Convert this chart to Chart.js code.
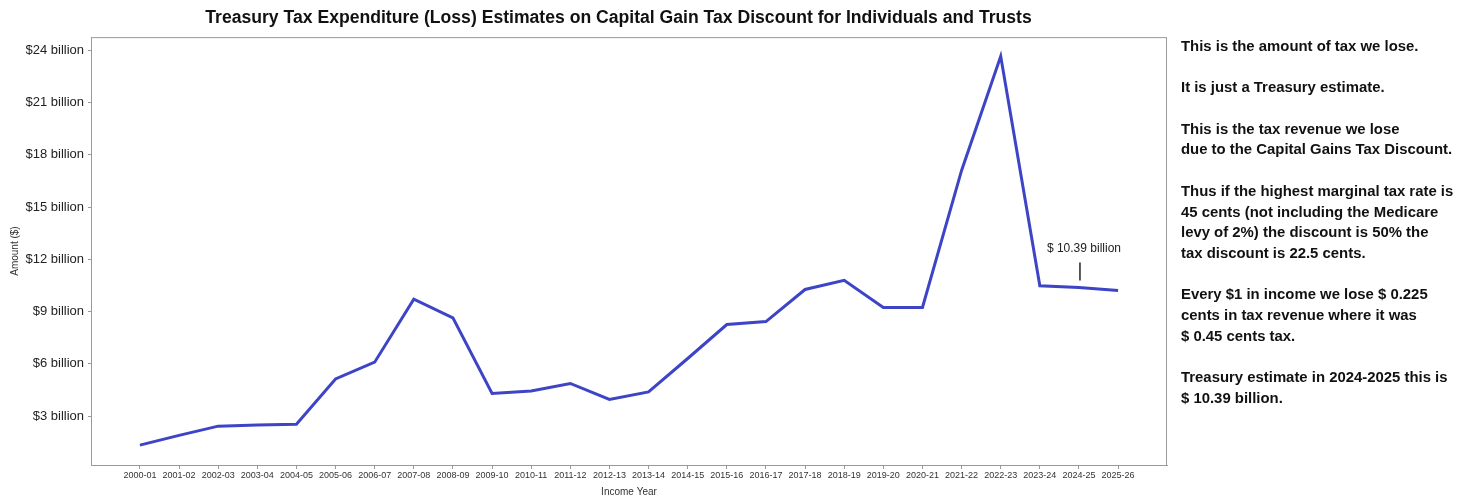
<!DOCTYPE html>
<html>
<head>
<meta charset="utf-8">
<script src="https://cdn.jsdelivr.net/npm/chart.js@4.4.0/dist/chart.umd.min.js"></script>
<style>
    body { margin: 0; background: #fff; width: 1469px; height: 498px; overflow: hidden; position: relative; }
    #chart-box { position: absolute; left: 0; top: 0; width: 1237px; height: 498px; }
    #notes {
        position: absolute; left: 1181px; top: 36px; width: 288px;
        font-family: 'Liberation Sans', Arial, sans-serif; font-weight: bold;
        font-size: 14.9px; line-height: 20.7px; color: #111;
    }
    #notes p { margin: 0 0 20.7px 0; }
</style>
</head>
<body>
<div id="chart-box"><canvas id="tax-chart"></canvas></div>
<div id="notes">
    <p>This is the amount of tax we lose.</p>
    <p>It is just a Treasury estimate.</p>
    <p>This is the tax revenue we lose<br>due to the Capital Gains Tax Discount.</p>
    <p>Thus if the highest marginal tax rate is<br>45 cents (not including the Medicare<br>levy of 2%) the discount is 50% the<br>tax discount is 22.5 cents.</p>
    <p>Every $1 in income we lose $ 0.225<br>cents in tax revenue where it was<br>$ 0.45 cents tax.</p>
    <p>Treasury estimate in 2024-2025 this is<br>$ 10.39 billion.</p>
</div>
<script>
// income years
const incomeYears = ['2000-01', '2001-02', '2002-03', '2003-04', '2004-05', '2005-06', '2006-07',
    '2007-08', '2008-09', '2009-10', '2010-11', '2011-12', '2012-13', '2013-14', '2014-15',
    '2015-16', '2016-17', '2017-18', '2018-19', '2019-20', '2020-21', '2021-22', '2022-23',
    '2023-24', '2024-25', '2025-26'];

// estimated loss, $ billion
const taxLoss = [1.34, 1.9, 2.43, 2.5, 2.54, 5.14, 6.1, 9.71, 8.64, 4.3, 4.45, 4.88, 3.96, 4.39,
    6.31, 8.26, 8.43, 10.27, 10.8, 9.24, 9.24, 17.1, 23.65, 10.48, 10.39, 10.21];

// y tick values, $ billion
const yTicks = [3, 6, 9, 12, 15, 18, 21, 24];

// the single callout
const calloutYear = '2024-25';
const calloutText = '$ 10.39 billion';

// draws the gray box round the plot and the callout over 2024-25
const extrasPlugin = {
    id: 'extras',
    afterDatasetsDraw(chart) {
        const ctx = chart.ctx;
        const area = chart.chartArea;
        ctx.save();
        ctx.strokeStyle = '#9a9a9a';
        ctx.lineWidth = 1;
        ctx.strokeRect(area.left + 0.5, area.top + 0.5, area.right - area.left - 1, area.bottom - area.top);

        const idx = incomeYears.indexOf(calloutYear);
        const px = chart.scales.x.getPixelForValue(idx);
        const py = chart.scales.y.getPixelForValue(taxLoss[idx]);
        ctx.strokeStyle = '#222';
        ctx.lineWidth = 1.5;
        ctx.beginPath();
        ctx.moveTo(px + 1, py - 25);
        ctx.lineTo(px + 1, py - 7);
        ctx.stroke();
        ctx.fillStyle = '#222';
        ctx.font = '12px "Liberation Sans", Arial, sans-serif';
        ctx.textAlign = 'center';
        ctx.textBaseline = 'middle';
        ctx.fillText(calloutText, px + 5, py - 39);
        ctx.restore();
    }
};

const chartEl = document.getElementById('tax-chart').getContext('2d');
const taxChart = new Chart(chartEl, {
    type: 'line',
    data: {
        datasets: [{
            label: 'Tax expenditure',
            data: taxLoss.map((v, i) => ({ x: i, y: v })),
            borderColor: '#3d44c6',
            borderWidth: 3,
            pointRadius: 0,
            tension: 0,
            fill: false
        }]
    },
    options: {
        responsive: true,
        maintainAspectRatio: false,
        animation: false,
        layout: { padding: 0 },
        plugins: {
            legend: { display: false },
            tooltip: { enabled: false },
            title: {
                display: true,
                text: 'Treasury Tax Expenditure (Loss) Estimates on Capital Gain Tax Discount for Individuals and Trusts',
                color: '#111',
                font: { family: "'Liberation Sans', Arial, sans-serif", size: 17.6, weight: 'bold' },
                padding: { top: 8, bottom: 8 }
            }
        },
        scales: {
            x: {
                type: 'linear',
                min: -1.25,
                max: 26.25,
                afterBuildTicks: (axis) => {
                    axis.ticks = incomeYears.map((l, i) => ({ value: i }));
                },
                afterFit: (axis) => { axis.height = 33; },
                grid: { drawOnChartArea: false, tickLength: 4, color: '#9a9a9a' },
                border: { color: '#9a9a9a' },
                ticks: {
                    autoSkip: false,
                    maxRotation: 0,
                    padding: 1,
                    color: '#333',
                    font: { family: "'Liberation Sans', Arial, sans-serif", size: 9 },
                    callback: (value) => incomeYears[value]
                },
                title: {
                    display: true,
                    text: 'Income Year',
                    color: '#333',
                    font: { family: "'Liberation Sans', Arial, sans-serif", size: 10 },
                    padding: { top: 3, bottom: 0 }
                }
            },
            y: {
                min: 0.2,
                max: 24.75,
                afterBuildTicks: (axis) => {
                    axis.ticks = yTicks.map(v => ({ value: v }));
                },
                afterFit: (axis) => { axis.width = 91; },
                grid: { drawOnChartArea: false, tickLength: 3, color: '#9a9a9a' },
                border: { color: '#9a9a9a' },
                ticks: {
                    padding: 4,
                    color: '#222',
                    font: { family: "'Liberation Sans', Arial, sans-serif", size: 13 },
                    callback: (value) => '$' + value + ' billion'
                },
                title: {
                    display: true,
                    text: 'Amount ($)',
                    color: '#333',
                    font: { family: "'Liberation Sans', Arial, sans-serif", size: 10 },
                    padding: { top: 9, bottom: 0 }
                }
            },
            // empty right axis, only keeps room on the right so the title centres like the original
            yRight: {
                position: 'right',
                display: true,
                afterFit: (axis) => { axis.width = 70; },
                grid: { display: false },
                border: { display: false },
                ticks: { display: false }
            }
        }
    },
    plugins: [extrasPlugin]
});
</script>
</body>
</html>
